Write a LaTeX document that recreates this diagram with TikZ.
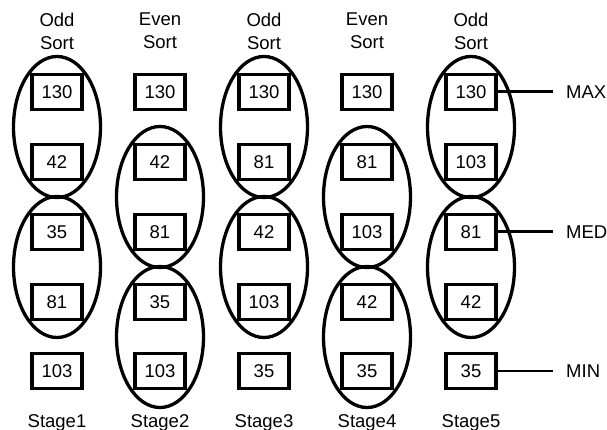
\documentclass[tikz,border=0pt]{standalone}
\usepackage{fontspec}
\setmainfont{Liberation Sans}
\usetikzlibrary{shapes.geometric}
\begin{document}
\begin{tikzpicture}[x=1pt,y=-1pt,
  valbox/.style={draw, line width=3.3pt, fill=white, minimum width=50pt, minimum height=35pt, inner sep=0pt, font=\fontsize{18.5}{20}\selectfont},
  pairoval/.style={draw, ellipse, line width=3.3pt, minimum width=87pt, minimum height=141pt, inner sep=0pt},
  lbl/.style={font=\fontsize{18.5}{23}\selectfont, align=center, inner sep=0pt},
  lead/.style={line width=3pt}]
\useasboundingbox (0,0) rectangle (607,430);
\foreach \s/\x/\ea/\eb/\a/\b/\c/\d/\e/\kind in {
  1/57/127/267/130/42/35/81/103/Odd,
  2/160/197/337/130/42/81/35/103/Even,
  3/264/127/267/130/81/42/103/35/Odd,
  4/367/197/337/130/81/103/42/35/Even,
  5/471/127/267/130/103/81/42/35/Odd}{
  \node[pairoval] (o\s-a) at (\x,\ea) {};
  \node[pairoval] (o\s-b) at (\x,\eb) {};
  \node[valbox] (s\s-r1) at (\x,92) {\a};
  \node[valbox] (s\s-r2) at (\x,162) {\b};
  \node[valbox] (s\s-r3) at (\x,232) {\c};
  \node[valbox] (s\s-r4) at (\x,302) {\d};
  \node[valbox] (s\s-r5) at (\x,371) {\e};
  \node[lbl] (h\s) at (\x,31) {\kind\\Sort};
  \node[lbl, anchor=base] (g\s) at (\x,427) {Stage\s};
}
\node[lbl, anchor=west] (max) at (566,92) {MAX};
\node[lbl, anchor=west] (med) at (566,232) {MED};
\node[lbl, anchor=west] (min) at (566,371) {MIN};
\coordinate (maxend) at (553,92);
\coordinate (medend) at (553,232);
\coordinate (minend) at (553,371);
\draw[lead] (s5-r1.east) -- (maxend);
\draw[lead] (s5-r3.east) -- (medend);
\draw[lead, line width=2.2pt] (s5-r5.east) -- (minend);
\end{tikzpicture}
\end{document}
